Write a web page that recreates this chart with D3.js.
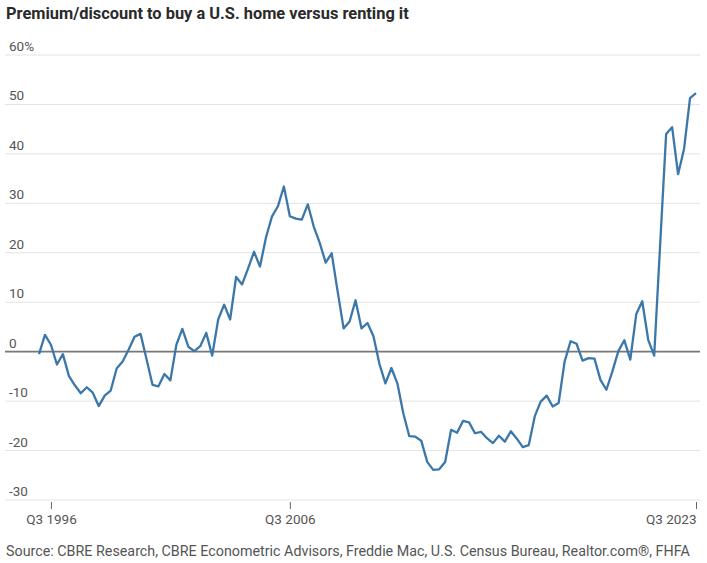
<!DOCTYPE html>
<html>
<head>
<meta charset="utf-8">
<script src="https://cdn.jsdelivr.net/npm/d3@7"></script>
<style>
  body { margin: 0; background: #fff; }
  svg { display: block; }
  .title { font-family: "Roboto", sans-serif; font-weight: 700; fill: #2a2a2a; }
  .tick-label, .source { font-family: "Roboto", sans-serif; fill: #555; }
</style>
</head>
<body>
<svg id="chart"></svg>
<script>
// Quarterly series, starting Q1 1996
const startYear = 1996;
const startQuarter = 1;
const premium = [
  -0.5, 3.4, 1.4, -2.6, -0.5, -4.9, -6.8, -8.4, -7.2, -8.3,
  -11.0, -8.9, -7.9, -3.4, -2.0, 0.4, 3.0, 3.6, -1.5, -6.7,
  -7.0, -4.5, -5.8, 1.4, 4.6, 1.0, 0.1, 1.1, 3.8, -0.8,
  6.5, 9.5, 6.5, 15.1, 13.6, 16.8, 20.2, 17.2, 23.1, 27.3,
  29.4, 33.4, 27.4, 26.9, 26.7, 29.8, 25.3, 22.0, 18.0, 19.9,
  12.2, 4.7, 6.1, 10.4, 4.7, 5.8, 3.1, -2.5, -6.4, -3.3,
  -6.4, -12.5, -17.1, -17.2, -18.0, -22.3, -23.9, -23.8, -22.3, -15.8,
  -16.4, -14.0, -14.3, -16.5, -16.2, -17.5, -18.5, -17.0, -18.2, -16.1,
  -17.6, -19.3, -18.9, -13.1, -10.1, -8.9, -11.1, -10.4, -2.0, 2.1,
  1.6, -1.8, -1.3, -1.4, -5.7, -7.7, -4.0, 0.1, 2.3, -1.6,
  7.6, 10.2, 2.4, -0.8, 21.7, 44.0, 45.4, 35.9, 41.0, 51.3,
  52.3
];
const yTicks = [-30, -20, -10, 0, 10, 20, 30, 40, 50, 60];
const xTickLabels = ["Q3 1996", "Q3 2006", "Q3 2023"];

const width = 707, height = 563;
const margin = { left: 5, right: 7, plotLeft: 39, plotRight: 696, top: 55, bottom: 500 };

// Quarter label -> index in the series
function quarterIndex(label) {
  const q = +label.slice(1, 2);
  const yr = +label.slice(3);
  return (yr - startYear) * 4 + (q - startQuarter);
}

const svg = d3.select("#chart").attr("width", width).attr("height", height);

const x = d3.scaleLinear()
  .domain([0, premium.length - 1])
  .range([margin.plotLeft, margin.plotRight]);

const y = d3.scaleLinear()
  .domain([-30, 60])
  .range([margin.bottom, margin.top]);

// Title
svg.append("text")
  .attr("class", "title")
  .attr("x", 6)
  .attr("y", 19)
  .attr("font-size", "16.4px")
  .text("Premium/discount to buy a U.S. home versus renting it");

// Gridlines
svg.append("g")
  .selectAll("line")
  .data(yTicks.filter(d => d !== 0))
  .enter()
  .append("line")
  .attr("x1", margin.left)
  .attr("x2", width - margin.right)
  .attr("y1", d => y(d))
  .attr("y2", d => y(d))
  .attr("stroke", "#e3e3e3")
  .attr("stroke-width", 1);

// Y labels sit above their gridline
svg.append("g")
  .selectAll("text")
  .data(yTicks)
  .enter()
  .append("text")
  .attr("class", "tick-label")
  .attr("x", 9)
  .attr("y", d => y(d) - 4)
  .attr("font-size", "13.5px")
  .text(d => (d === 60 ? d + "%" : d));

// X axis
const xAxis = d3.axisBottom(x)
  .tickValues(xTickLabels.map(quarterIndex))
  .tickFormat((d, i) => xTickLabels[i])
  .tickSize(7)
  .tickPadding(5);

const gx = svg.append("g")
  .attr("transform", "translate(0," + (margin.bottom + 2) + ")")
  .call(xAxis);
gx.select(".domain").remove();
gx.selectAll(".tick line").attr("stroke", "#666");
gx.selectAll(".tick text")
  .attr("class", "tick-label")
  .attr("font-size", "13.5px")
  .attr("fill", "#555");
// last label is right-aligned to its tick
gx.selectAll(".tick text").filter((d, i) => i === xTickLabels.length - 1)
  .attr("text-anchor", "end");

// Zero line
svg.append("line")
  .attr("x1", margin.left)
  .attr("x2", width - margin.right)
  .attr("y1", y(0))
  .attr("y2", y(0))
  .attr("stroke", "#777")
  .attr("stroke-width", 1.6);

// Series line
const line = d3.line()
  .x((d, i) => x(i))
  .y(d => y(d));

svg.append("path")
  .datum(premium)
  .attr("fill", "none")
  .attr("stroke", "#3b77a8")
  .attr("stroke-width", 2.3)
  .attr("stroke-linejoin", "round")
  .attr("d", line);

// Source
svg.append("text")
  .attr("class", "source")
  .attr("x", 6)
  .attr("y", 556)
  .attr("font-size", "14.3px")
  .text("Source: CBRE Research, CBRE Econometric Advisors, Freddie Mac, U.S. Census Bureau, Realtor.com®, FHFA");
</script>
</body>
</html>
